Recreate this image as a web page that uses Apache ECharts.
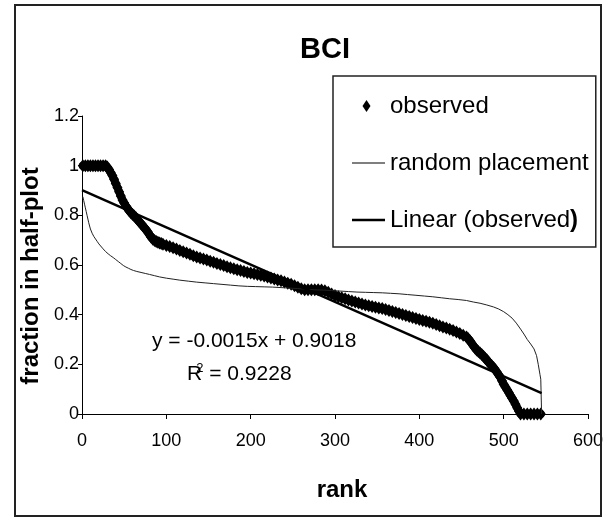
<!DOCTYPE html>
<html>
<head>
<meta charset="utf-8">
<script src="https://cdn.jsdelivr.net/npm/echarts@6/dist/echarts.min.js"></script>
<style>
  html, body { margin: 0; padding: 0; background: #fff; }
  #chart { width: 614px; height: 519px; }
</style>
</head>
<body>
<div id="chart"></div>
<script>
const FONT = '"Liberation Sans", Arial, Helvetica, sans-serif';

// Observed fraction of each species in the half-plot, by rank
const obsRank = [
  1, 4, 7, 10, 13, 16, 19, 22, 25, 28,
  30, 32, 34, 36, 38, 40, 42, 44, 46, 48, 50, 52, 54, 56, 58, 60, 62, 64, 66, 68,
  70, 72, 74, 76, 78, 80, 82, 84, 86, 88, 90, 92, 94, 96,
  100, 104, 108, 112, 116, 120, 124, 128, 132, 136, 140, 144, 148, 152, 156, 160,
  164, 168, 172, 176, 180, 184, 188, 192, 196, 200, 204, 208, 212, 216, 220, 224,
  228, 232, 236, 240, 244, 248, 252, 256, 260, 264, 268, 272, 276, 280, 284, 288,
  292, 296, 300, 304, 308, 312, 316, 320, 324, 328, 332, 336, 340, 344, 348, 352,
  356, 360, 364, 368, 372, 376, 380, 384, 388, 392, 396, 400, 404, 408, 412, 416,
  420, 424, 428, 432, 436, 440, 444, 448, 452, 456,
  458, 460, 462, 464, 466, 468, 470, 472, 474, 476, 478, 480, 482, 484, 486, 488,
  490, 492, 494, 496, 498, 500, 502, 504, 506, 508, 510, 512, 514, 516, 518, 520,
  524, 528, 532, 536, 540, 544
];
const obsValue = [
  1, 1, 1, 1, 1, 1, 1, 1, 1, 1,
  0.995, 0.985, 0.972, 0.96, 0.945, 0.928, 0.912, 0.895, 0.878, 0.862, 0.85, 0.838, 0.828, 0.818, 0.81, 0.803, 0.797, 0.79, 0.782, 0.774,
  0.766, 0.758, 0.75, 0.742, 0.733, 0.722, 0.712, 0.704, 0.699, 0.695, 0.692, 0.689, 0.687, 0.684,
  0.679, 0.674, 0.669, 0.664, 0.658, 0.653, 0.648, 0.643, 0.637, 0.632, 0.628, 0.624, 0.62, 0.615, 0.611, 0.606,
  0.602, 0.598, 0.593, 0.589, 0.585, 0.581, 0.578, 0.574, 0.57, 0.568, 0.565, 0.562, 0.559, 0.556, 0.552, 0.548,
  0.544, 0.54, 0.537, 0.532, 0.527, 0.522, 0.516, 0.51, 0.504, 0.5, 0.5, 0.5, 0.5, 0.5, 0.499, 0.496,
  0.49, 0.483, 0.477, 0.472, 0.468, 0.464, 0.459, 0.455, 0.451, 0.447, 0.443, 0.439, 0.436, 0.433, 0.43, 0.427,
  0.425, 0.421, 0.417, 0.413, 0.409, 0.405, 0.401, 0.397, 0.393, 0.389, 0.385, 0.381, 0.377, 0.373, 0.369, 0.365,
  0.36, 0.355, 0.35, 0.346, 0.341, 0.336, 0.33, 0.324, 0.317, 0.31,
  0.303, 0.295, 0.285, 0.275, 0.266, 0.258, 0.252, 0.246, 0.24, 0.233, 0.225, 0.218, 0.209, 0.2, 0.194, 0.187,
  0.178, 0.168, 0.158, 0.148, 0.134, 0.12, 0.109, 0.098, 0.087, 0.075, 0.063, 0.052, 0.039, 0.025, 0.012, 0,
  0, 0, 0, 0, 0, 0
];

// Expected fraction under random placement, by rank
const randRank = [
  1, 2, 3, 4, 5, 6, 7, 8, 9, 10, 12, 14, 16, 18, 20, 22, 25, 28, 31, 34, 37, 40, 43, 46, 49,
  52, 55, 58, 61, 65, 70, 75, 80, 86, 92, 100, 108, 116, 126, 136, 146, 156, 166, 176, 186,
  196, 206, 216, 226, 236, 246, 256, 266, 276, 286, 296, 306, 316, 326, 336, 346, 356, 366,
  376, 386, 396, 406, 416, 426, 436, 446, 456, 464, 472, 480, 488, 494, 500, 505, 510, 515,
  520, 524, 528, 532, 536, 539, 541, 543, 544, 545
];
const randValue = [
  0.875, 0.86, 0.845, 0.83, 0.815, 0.8, 0.785, 0.77, 0.757, 0.745, 0.728, 0.715, 0.705, 0.695, 0.685, 0.677, 0.665, 0.654, 0.645, 0.637, 0.63, 0.622, 0.614, 0.606, 0.598,
  0.592, 0.587, 0.582, 0.578, 0.574, 0.57, 0.566, 0.562, 0.557, 0.552, 0.547, 0.543, 0.539, 0.535, 0.531, 0.528, 0.525, 0.522, 0.519, 0.516,
  0.514, 0.513, 0.512, 0.511, 0.509, 0.507, 0.505, 0.502, 0.5, 0.499, 0.497, 0.495, 0.493, 0.491, 0.49, 0.489, 0.488, 0.486,
  0.484, 0.481, 0.478, 0.475, 0.472, 0.468, 0.464, 0.461, 0.457, 0.451, 0.446, 0.439, 0.431, 0.423, 0.412, 0.4, 0.386, 0.366,
  0.342, 0.322, 0.3, 0.282, 0.262, 0.235, 0.2, 0.16, 0.14, 0
];

// Least-squares fit of the observed series
const fitSlope = -0.0015;
const fitIntercept = 0.9018;
const fitR2 = 0.9228;
const fitRange = [0, 545];

// Axis scales
const xMin = 0, xMax = 600, xStep = 100;
const yMin = 0, yMax = 1.2, yStep = 0.2;

const seriesNames = ['observed', 'random placement', 'Linear (observed)'];

const pair = (xs, ys) => xs.map((x, i) => [x, ys[i]]);
const fitPoints = fitRange.map(x => [x, fitSlope * x + fitIntercept]);

const diamond = 'path://M5,0L10,6.5L5,13L0,6.5Z';

const chart = echarts.init(document.getElementById('chart'), null, { renderer: 'canvas' });

chart.setOption({
  backgroundColor: '#fff',
  animation: false,
  title: {
    text: 'BCI',
    left: 320,
    top: 30,
    textAlign: 'center',
    textStyle: { fontFamily: FONT, fontSize: 29, fontWeight: 'bold', color: '#000' }
  },
  legend: {
    orient: 'vertical',
    left: 333,
    top: 76,
    padding: [17, 7, 14, 19],
    itemWidth: 33,
    itemHeight: 12,
    itemGap: 31,
    borderColor: '#222',
    borderWidth: 1.5,
    backgroundColor: '#fff',
    selectedMode: false,
    textStyle: {
      fontFamily: FONT, fontSize: 24, color: '#000', lineHeight: 26,
      rich: { b: { fontFamily: FONT, fontSize: 24, fontWeight: 'bold', color: '#000', lineHeight: 26 } }
    },
    formatter: name => name === seriesNames[2] ? 'Linear (observed{b|)}' : name,
    data: [
      { name: seriesNames[0], icon: 'path://M0,0M33,12M14.5,0L18.5,6L14.5,12L10.5,6Z' },
      { name: seriesNames[1], icon: 'path://M0,0M33,12M0,5.5H33V6.5H0Z' },
      { name: seriesNames[2], icon: 'path://M0,0M33,12M0,4.75H33V7.25H0Z' }
    ]
  },
  grid: { left: 82, right: 26, top: 116, bottom: 105, outerBoundsMode: 'none' },
  xAxis: {
    type: 'value',
    min: xMin, max: xMax, interval: xStep,
    name: 'rank',
    nameLocation: 'middle',
    nameGap: 64,
    nameTextStyle: { fontFamily: FONT, fontSize: 24, fontWeight: 'bold', color: '#000', padding: [0, 0, 0, 14] },
    axisLine: { onZero: false, lineStyle: { color: '#000', width: 1 } },
    axisTick: { show: true, inside: false, length: 5, lineStyle: { color: '#000' } },
    axisLabel: { fontFamily: FONT, fontSize: 18, color: '#000', margin: 18 },
    splitLine: { show: false }
  },
  yAxis: {
    type: 'value',
    min: yMin, max: yMax, interval: yStep,
    name: 'fraction in half-plot',
    nameLocation: 'middle',
    nameRotate: 90,
    nameGap: 30,
    nameTextStyle: { fontFamily: FONT, fontSize: 24, fontWeight: 'bold', color: '#000', padding: [0, 22, 0, 0] },
    axisLine: { show: true, onZero: false, lineStyle: { color: '#000', width: 1 } },
    axisTick: { show: true, inside: false, length: 4, lineStyle: { color: '#000' } },
    axisLabel: {
      fontFamily: FONT, fontSize: 18, color: '#000', margin: 3,
      formatter: v => String(Math.round(v * 10) / 10)
    },
    splitLine: { show: false }
  },
  series: [
    {
      // dense diamond markers, joined so the run of points reads as one heavy band
      name: seriesNames[0],
      type: 'line',
      symbol: diamond,
      symbolSize: [10, 13],
      showSymbol: true,
      showAllSymbol: true,
      color: '#000',
      itemStyle: { color: '#000' },
      lineStyle: { color: '#000', width: 8, join: 'round', cap: 'round' },
      data: pair(obsRank, obsValue),
      z: 2
    },
    {
      name: seriesNames[1],
      type: 'line',
      showSymbol: false,
      symbol: 'none',
      color: '#000',
      lineStyle: { color: '#222', width: 1 },
      data: pair(randRank, randValue),
      z: 3
    },
    {
      name: seriesNames[2],
      type: 'line',
      showSymbol: false,
      symbol: 'none',
      color: '#000',
      lineStyle: { color: '#000', width: 2.5 },
      data: fitPoints,
      z: 4
    }
  ],
  graphic: [
    {
      type: 'text',
      left: 152,
      top: 331,
      style: {
        text: 'y = ' + fitSlope.toFixed(4) + 'x + ' + fitIntercept.toFixed(4),
        font: '21px ' + FONT,
        fill: '#000'
      }
    },
    {
      type: 'text',
      left: 187,
      top: 362,
      style: {
        text: '{r|R}{s|2}{r| = ' + fitR2.toFixed(4) + '}',
        fill: '#000',
        rich: {
          r: { font: '21px ' + FONT, fill: '#000', lineHeight: 24 },
          s: { font: '13px ' + FONT, fill: '#000', lineHeight: 24, verticalAlign: 'top', padding: [0, 0, 8, -6] }
        }
      }
    },
    {
      type: 'rect',
      z: 100,
      shape: { x: 15, y: 5, width: 586, height: 511 },
      style: { fill: 'none', stroke: '#222', lineWidth: 2 }
    }
  ]
});
</script>
</body>
</html>
